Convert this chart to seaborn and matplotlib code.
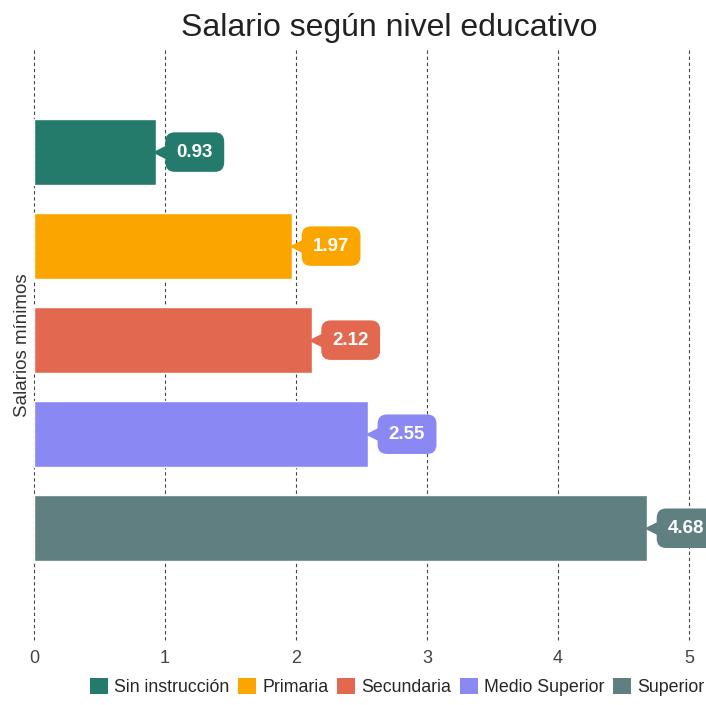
import matplotlib
matplotlib.use("Agg")
import matplotlib.pyplot as plt
import matplotlib.transforms as mtransforms
from matplotlib.patches import Patch
import seaborn as sns
import pandas as pd

# datos
niveles = ["Sin instrucción", "Primaria", "Secundaria", "Medio Superior", "Superior"]
salarios = [0.93, 1.97, 2.12, 2.55, 4.68]
colores = ["#247b6c", "#fba600", "#e2694f", "#8a88f2", "#5f7f80"]
ticks_x = [0, 1, 2, 3, 4, 5]

df = pd.DataFrame({"nivel": niveles, "salario": salarios})

sns.set_style("white")
plt.rcParams["font.family"] = ["Liberation Sans", "DejaVu Sans"]

fig = plt.figure(figsize=(7.06, 7.05), dpi=100)
ax = fig.add_axes([0.048, 0.092, 0.928, 0.837])

sns.barplot(data=df, x="salario", y="nivel", hue="nivel", palette=colores,
            width=0.7, legend=False, ax=ax, zorder=2, saturation=1)

ax.set_xlim(0, 5)
ax.set_ylim(5.19, -1.085)
ax.set_xticks(ticks_x)
ax.set_xticklabels([str(t) for t in ticks_x], fontsize=13, color="#444444")
ax.set_yticks([])
ax.set_ylabel("Salarios mínimos", fontsize=13.5, color="#333333", labelpad=2)
ax.set_xlabel("")
ax.tick_params(axis="x", length=0, pad=7)
for s in ax.spines.values():
    s.set_visible(False)
for t in ticks_x:
    ax.axvline(t, color="#444444", lw=0.8, ls=(0, (3, 2.5)), zorder=1.5 if t == 0 else 1,
               clip_on=False)

ax.set_title("Salario según nivel educativo", fontsize=23, color="#222222", pad=10, x=0.543)

# etiquetas con flecha
for i, (v, c) in enumerate(zip(salarios, colores)):
    trans = ax.transData + mtransforms.ScaledTranslation(7 / 72, 0, fig.dpi_scale_trans)
    ax.plot(v, i, marker="<", ms=19, color=c, mec="none", transform=trans,
            zorder=3, clip_on=False)
    ax.annotate(f"{v:.2f}", xy=(v, i), xytext=(15, 0), textcoords="offset points",
                ha="left", va="center", fontsize=13.5, fontweight="bold", color="white",
                bbox=dict(boxstyle="round,pad=0.6,rounding_size=0.5", fc=c, ec="none"),
                zorder=4, annotation_clip=False)

handles = [Patch(fc=c, ec="none", label=n) for n, c in zip(niveles, colores)]
fig.legend(handles=handles, loc="lower right", bbox_to_anchor=(1.018, -0.008), ncol=5,
           frameon=False, fontsize=12.8, handlelength=1.0, handleheight=1.0,
           handletextpad=0.35, columnspacing=0.5, borderaxespad=0.4)

fig.savefig("out.png", dpi=100)
